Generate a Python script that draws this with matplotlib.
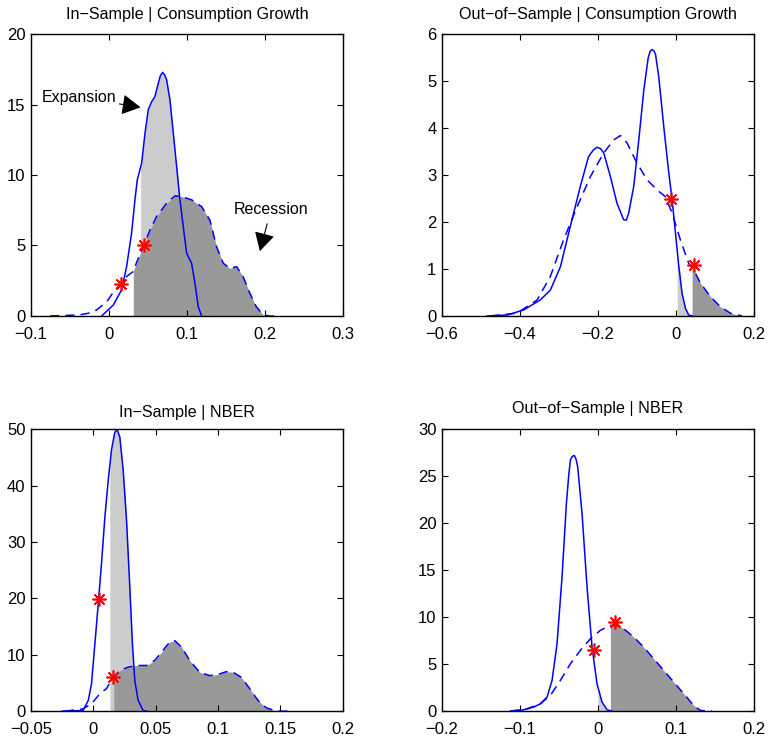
import numpy as np
import matplotlib
matplotlib.use("Agg")
import matplotlib.pyplot as plt

plt.rcParams['font.family'] = ['Liberation Sans', 'DejaVu Sans']

# ---- In-Sample | Consumption Growth
is_cg_exp_x = [-0.0094, 0.0056, 0.0162, 0.0226, 0.029, 0.0333, 0.0363, 0.0419, 0.0462, 0.0504,
               0.0547, 0.059, 0.0632, 0.066, 0.0688, 0.0715, 0.0739, 0.0782, 0.0825, 0.0868, 0.091, 0.0953,
               0.0996, 0.106, 0.1103, 0.1145, 0.1188]
is_cg_exp_y = [0, 0.78, 1.85, 3.5, 5.87, 8.24, 9.66, 10.84, 12.97, 14.63,
               15.2, 15.57, 16.5, 17.05, 17.28, 17.1, 16.76, 15.34, 12.97, 10.6, 8.24, 6.34,
               4.45, 3.74, 2.32, 0.66, 0]
is_cg_rec_x = [-0.0756, -0.039, -0.0265, -0.0158, -0.003, 0.0077, 0.015, 0.0226, 0.031, 0.0376,
               0.045, 0.0526, 0.061, 0.074, 0.0846, 0.093, 0.106, 0.1188, 0.1295, 0.138,
               0.1466, 0.155, 0.1637, 0.172, 0.1808, 0.189, 0.1978, 0.206, 0.219]
is_cg_rec_y = [0, 0.07, 0.19, 0.43, 1.0, 1.85, 2.27, 2.8, 3.15, 4.1,
               5.04, 6.1, 7.05, 8.0, 8.52, 8.47, 8.24, 7.76, 6.8, 4.92,
               3.74, 3.38, 3.5, 2.8, 1.6, 0.66, 0.07, 0, 0]
is_cg_cut = (0.0406, 0.0312)
is_cg_stars = ([0.015, 0.045], [2.27, 5.04])

# ---- Out-of-Sample | Consumption Growth
oos_cg_exp_x = [-0.4845, -0.433, -0.390, -0.348, -0.322, -0.296, -0.271, -0.245, -0.224, -0.212, -0.202,
                -0.193, -0.185, -0.168, -0.151, -0.134, -0.127, -0.121, -0.108, -0.095, -0.082, -0.071, -0.066, -0.061,
                -0.056, -0.052, -0.044, -0.031, -0.018, -0.0095, -0.0009, 0.0077, 0.016, 0.0248, 0.033, 0.042]
oos_cg_exp_y = [0, 0.02, 0.13, 0.34, 0.55, 1.05, 1.9, 2.76, 3.39, 3.53, 3.59,
                3.56, 3.47, 2.97, 2.4, 2.05, 2.04, 2.19, 2.76, 3.75, 4.82, 5.49, 5.63, 5.67,
                5.64, 5.56, 5.1, 4.03, 3.04, 2.47, 1.76, 1.05, 0.48, 0.16, 0.02, 0]
oos_cg_rec_x = [-0.476, -0.4075, -0.356, -0.322, -0.288, -0.253, -0.219, -0.185, -0.159, -0.142,
                -0.125, -0.0995, -0.074, -0.048, -0.027, -0.0095, 0.0116, 0.033, 0.046, 0.063,
                0.0888, 0.114, 0.140, 0.170]
oos_cg_rec_y = [0, 0.06, 0.34, 0.84, 1.62, 2.33, 2.97, 3.47, 3.75, 3.84,
                3.68, 3.25, 2.9, 2.68, 2.54, 2.19, 1.62, 1.12, 0.98, 0.70,
                0.41, 0.2, 0.06, 0]
oos_cg_cut = (0.0034, 0.0417)
oos_cg_stars = ([-0.0121, 0.046], [2.49, 1.09])

# ---- In-Sample | NBER
is_nb_exp_x = [-0.025, -0.0083, -0.0041, -0.0015, 0.0012, 0.0039, 0.0065, 0.0092, 0.0119, 0.0145,
               0.0172, 0.0191, 0.0212, 0.0239, 0.0266, 0.0292, 0.0313, 0.0332, 0.0359, 0.0399, 0.0425]
is_nb_exp_y = [0, 0.1, 1.9, 4.85, 11.95, 19.05, 26.15, 34.4, 40.95, 46.3,
               49.5, 49.9, 48.6, 42.7, 33.8, 22.0, 11.95, 5.4, 1.9, 0.1, 0]
is_nb_rec_x = [-0.0228, -0.0083, -0.0015, 0.0052, 0.0105, 0.0159, 0.0212, 0.0279, 0.0346, 0.0426,
               0.0492, 0.0559, 0.0612, 0.0652, 0.0706, 0.0772, 0.0852, 0.0932, 0.0999, 0.1066,
               0.112, 0.1186, 0.1253, 0.132, 0.1386, 0.1466, 0.16]
is_nb_rec_y = [0, 0.4, 1.3, 3.1, 4.0, 6.0, 7.2, 7.8, 8.1, 8.1,
               9.0, 10.8, 12.25, 12.5, 11.4, 9.0, 6.9, 6.3, 6.5, 7.0,
               6.9, 6.0, 4.0, 1.9, 0.6, 0, 0]
is_nb_cut = (0.0132, 0.0164)
is_nb_stars = ([0.0047, 0.0159], [19.9, 6.0])

# ---- Out-of-Sample | NBER
oos_nb_exp_x = [-0.1123, -0.0952, -0.0824, -0.0738, -0.0652, -0.0588, -0.0524, -0.046, -0.0404, -0.0375, -0.0353,
                -0.033, -0.0302, -0.028, -0.0259, -0.0203, -0.0139, -0.0075, -0.0011, 0.0053, 0.0118, 0.0182]
oos_nb_exp_y = [0, 0.14, 0.43, 0.78, 1.5, 3.27, 7.17, 14.27, 22.1, 25.0, 26.7,
                27.1, 27.2, 26.8, 26.0, 21.0, 13.2, 6.8, 2.9, 0.96, 0.14, 0]
oos_nb_rec_x = [-0.1123, -0.091, -0.0738, -0.061, -0.0481, -0.0353, -0.0225, -0.0096, 0.0032, 0.016,
                0.0246, 0.0332, 0.046, 0.0588, 0.0717, 0.0845, 0.0973, 0.1102, 0.123, 0.1316, 0.1465]
oos_nb_rec_y = [0, 0.25, 0.78, 1.67, 3.27, 5.04, 6.46, 7.7, 8.6, 9.12,
                9.12, 8.77, 7.88, 6.82, 5.57, 4.33, 3.09, 1.85, 0.6, 0.07, 0]
oos_nb_cut = (0.0, 0.016)
oos_nb_stars = ([-0.0053, 0.0216], [6.46, 9.48])

panels = [
    ("In\u2212Sample | Consumption Growth", is_cg_exp_x, is_cg_exp_y, is_cg_rec_x, is_cg_rec_y,
     is_cg_cut, is_cg_stars, (-0.1, 0.3), np.arange(-0.1, 0.31, 0.1), (0, 20), np.arange(0, 21, 5), 10.5),
    ("Out\u2212of\u2212Sample | Consumption Growth", oos_cg_exp_x, oos_cg_exp_y, oos_cg_rec_x, oos_cg_rec_y,
     oos_cg_cut, oos_cg_stars, (-0.6, 0.2), np.arange(-0.6, 0.21, 0.2), (0, 6), np.arange(0, 7, 1), 11),
    ("In\u2212Sample | NBER", is_nb_exp_x, is_nb_exp_y, is_nb_rec_x, is_nb_rec_y,
     is_nb_cut, is_nb_stars, (-0.05, 0.2), np.arange(-0.05, 0.21, 0.05), (0, 50), np.arange(0, 51, 10), 8.5),
    ("Out\u2212of\u2212Sample | NBER", oos_nb_exp_x, oos_nb_exp_y, oos_nb_rec_x, oos_nb_rec_y,
     oos_nb_cut, oos_nb_stars, (-0.2, 0.2), np.arange(-0.2, 0.21, 0.1), (0, 30), np.arange(0, 31, 5), 11.5),
]

positions = [[0.0404, 0.573, 0.406, 0.381], [0.5755, 0.573, 0.406, 0.381],
             [0.0404, 0.039, 0.406, 0.381], [0.5755, 0.039, 0.406, 0.381]]


def tail(x, y, x0):
    # area under a curve to the right of x0
    x = np.asarray(x); y = np.asarray(y)
    y0 = np.interp(x0, x, y)
    m = x > x0
    return np.r_[x0, x[m]], np.r_[y0, y[m]]


def fmt(v):
    return ('%g' % round(v, 4)).replace('-', '\u2212')


fig = plt.figure(figsize=(7.68, 7.40), dpi=100)
for pos, (title, ex, ey, rx, ry, cut, stars, xl, xt, yl, yt, tpad) in zip(positions, panels):
    ax = fig.add_axes(pos)
    fx, fy = tail(ex, ey, cut[0])
    ax.fill_between(fx, 0, fy, color='#cccccc', lw=0)
    fx, fy = tail(rx, ry, cut[1])
    ax.fill_between(fx, 0, fy, color='#999999', lw=0)
    ax.plot(ex, ey, color='blue', lw=1.1)
    ax.plot(rx, ry, color='blue', lw=1.1, dashes=(6, 4))
    ax.plot(stars[0], stars[1], ls='none', marker=(8, 2, 0), ms=10, mew=1.2, color='red')
    ax.set_xlim(xl); ax.set_ylim(yl)
    ax.set_xticks(xt); ax.set_yticks(yt)
    ax.set_xticklabels([fmt(v) for v in xt]); ax.set_yticklabels([fmt(v) for v in yt])
    ax.tick_params(direction='in', top=True, right=True, length=4, labelsize=12)
    ax.tick_params(axis='x', pad=8)
    ax.tick_params(axis='y', pad=4)
    for s in ax.spines.values():
        s.set_linewidth(1.0)
    ax.set_title(title, fontsize=11.6, pad=tpad)
    if title.startswith("In\u2212Sample | C"):
        ax.annotate("Expansion", xy=(0.0405, 14.8), xytext=(-0.0859, 15.5),
                    fontsize=11.5, va='center',
                    arrowprops=dict(arrowstyle='-|>,head_length=1.0,head_width=0.55',
                                    color='black', lw=0.8, shrinkA=0, shrinkB=0))
        ax.annotate("Recession", xy=(0.1936, 4.6), xytext=(0.16, 7.55),
                    fontsize=11.5, va='center',
                    arrowprops=dict(arrowstyle='-|>,head_length=1.0,head_width=0.55',
                                    color='black', lw=0.8, shrinkA=3, shrinkB=0))

fig.savefig('out.png', dpi=100)
